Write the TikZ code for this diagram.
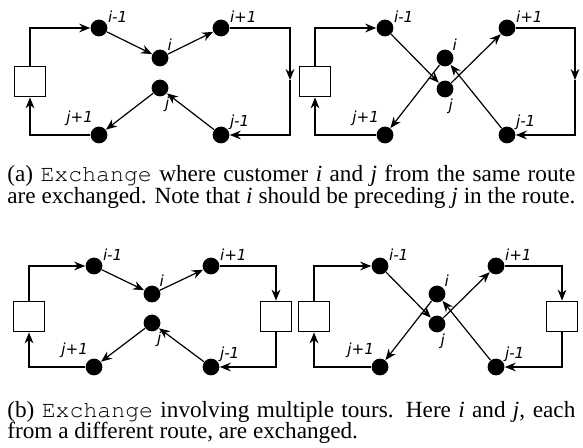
\documentclass[tikz,border=0pt]{standalone}
\usepackage{fontspec}
\setmainfont{Liberation Serif}
\newfontfamily\lblfont{DejaVu Sans}
\usetikzlibrary{arrows.meta}
\newcommand\courtt[1]{{\fontencoding{T1}\fontfamily{pcr}\selectfont #1}}
\newcommand\fullline[1]{\makebox[284pt][s]{#1}}

\tikzset{
  cust/.style={circle, fill=black, inner sep=0pt, minimum size=8.4pt},
  depot/.style={draw, line width=0.6pt, minimum size=15.3pt, inner sep=0pt},
  lbl/.style={font=\lblfont\itshape\fontsize{7.6}{8}\selectfont, inner sep=0.5pt},
  route/.style={line width=0.6pt},
  arc/.style={route, -{Stealth[length=5.5pt, width=4.4pt]}},
  captxt/.style={font=\fontsize{11.6}{13}\selectfont, inner sep=0pt, anchor=base west},
}

\begin{document}
\begin{tikzpicture}[x=0.5pt, y=-0.5pt]
\useasboundingbox (0,0) rectangle (583,448);

% (a) same route, before
\node[depot] (da) at (30,81.5) {};
\node[cust, label={[lbl]30:i-1}] (aim) at (99,28) {};
\node[cust, label={[lbl]45:i}] (ai) at (160,58) {};
\node[cust, label={[lbl]30:i+1}] (aip) at (221,28) {};
\node[cust, label={[lbl]-65:j}] (aj) at (160,88) {};
\node[cust, label={[lbl]30:j-1}] (ajm) at (221,135) {};
\node[cust, label={[lbl]122:j+1}] (ajp) at (99,135) {};
\coordinate (ma) at (290,80);
\draw[arc] (da) |- (aim);
\draw[arc] (aim) -- (ai);
\draw[arc] (ai) -- (aip);
\draw[arc] (aip) -| (ma);
\draw[arc] (ma) |- (ajm);
\draw[arc] (ajm) -- (aj);
\draw[arc] (aj) -- (ajp);
\draw[arc] (ajp) -| (da);

% (a) same route, after
\node[depot] (db) at (315,81.5) {};
\node[cust, label={[lbl]30:i-1}] (bim) at (385,28) {};
\node[cust, label={[lbl]45:i}] (bi) at (445,58) {};
\node[cust, label={[lbl]30:i+1}] (bip) at (507,28) {};
\node[cust, label={[lbl]-75:j}] (bj) at (445,89) {};
\node[cust, label={[lbl]30:j-1}] (bjm) at (507,135) {};
\node[cust, label={[lbl]122:j+1}] (bjp) at (385,135) {};
\coordinate (mb) at (575,80);
\draw[arc] (db) |- (bim);
\draw[arc] (bim) -- (bj);
\draw[arc] (bj) -- (bip);
\draw[arc] (bip) -| (mb);
\draw[arc] (mb) |- (bjm);
\draw[arc] (bjm) -- (bi);
\draw[arc] (bi) -- (bjp);
\draw[arc] (bjp) -| (db);

\node[captxt] (capa1) at (7,182) {\fullline{(a) \courtt{Exchange} where customer \textit{i} and \textit{j} from the same route}};
\node[captxt] (capa2) at (7,203.5) {\fullline{are exchanged. Note that \textit{i} should be preceding \textit{j} in the route.}};

% (b) two tours, before
\node[depot] (dc) at (29,316.5) {};
\node[depot] (dd) at (276,316.5) {};
\node[cust, label={[lbl]30:i-1}] (cim) at (94,266) {};
\node[cust, label={[lbl]45:i}] (ci) at (152,294) {};
\node[cust, label={[lbl]30:i+1}] (cip) at (211,266) {};
\node[cust, label={[lbl]-65:j}] (cj) at (152,323) {};
\node[cust, label={[lbl]30:j-1}] (cjm) at (211,367) {};
\node[cust, label={[lbl]122:j+1}] (cjp) at (94,367) {};
\draw[arc] (dc) |- (cim);
\draw[arc] (cim) -- (ci);
\draw[arc] (ci) -- (cip);
\draw[arc] (cip) -| (dd);
\draw[arc] (dd) |- (cjm);
\draw[arc] (cjm) -- (cj);
\draw[arc] (cj) -- (cjp);
\draw[arc] (cjp) -| (dc);

% (b) two tours, after
\node[depot] (de) at (314,316.5) {};
\node[depot] (df) at (562,316.5) {};
\node[cust, label={[lbl]30:i-1}] (eim) at (380,266) {};
\node[cust, label={[lbl]45:i}] (ei) at (437,294) {};
\node[cust, label={[lbl]30:i+1}] (eip) at (496,266) {};
\node[cust, label={[lbl]-75:j}] (ej) at (437,324) {};
\node[cust, label={[lbl]30:j-1}] (ejm) at (496,367) {};
\node[cust, label={[lbl]122:j+1}] (ejp) at (380,367) {};
\draw[arc] (de) |- (eim);
\draw[arc] (eim) -- (ej);
\draw[arc] (ej) -- (eip);
\draw[arc] (eip) -| (df);
\draw[arc] (df) |- (ejm);
\draw[arc] (ejm) -- (ei);
\draw[arc] (ei) -- (ejp);
\draw[arc] (ejp) -| (de);

\node[captxt] (capb1) at (7,417) {\fullline{(b) \courtt{Exchange} involving multiple tours. Here \textit{i} and \textit{j}, each}};
\node[captxt] (capb2) at (7,438) {from a different route, are exchanged.};
\end{tikzpicture}
\end{document}
